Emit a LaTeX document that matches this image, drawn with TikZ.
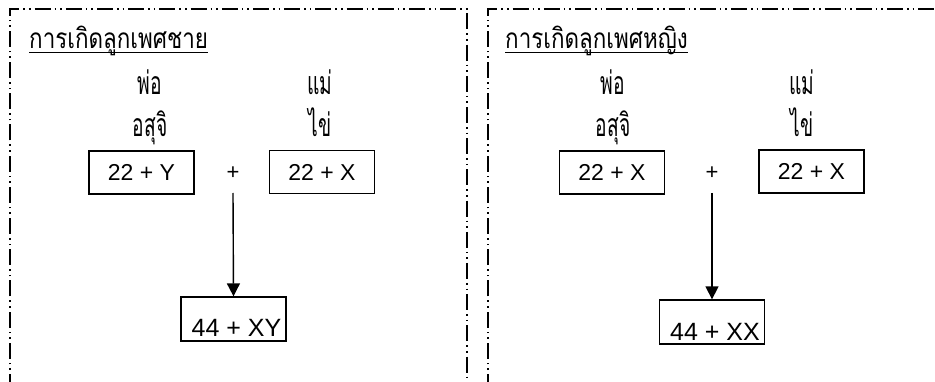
\documentclass[tikz,border=0pt]{standalone}
\usepackage{fontspec}
\setmainfont{Liberation Sans}
\newfontfamily\thaifont[Script=Thai,FakeStretch=0.8]{Loma}
\newfontfamily\thaicond[Script=Thai,FakeStretch=0.6]{Loma}
\usetikzlibrary{arrows.meta}
\newcommand\myul[1]{\setbox0\hbox{#1}\rlap{\rule[-4pt]{\wd0}{1pt}}\box0}
\tikzset{
  panel/.style={line width=1.5pt, dash pattern=on 16pt off 4pt on 1.6pt off 4pt on 1.6pt off 4pt},
  thai/.style={font=\thaicond\fontsize{32}{32}\selectfont, inner sep=0pt, anchor=base},
  ttl/.style={font=\thaifont\fontsize{28}{28}\selectfont, inner sep=0pt, anchor=base west},
  chrom/.style={draw, line width=1.3pt, minimum width=105pt, minimum height=43pt, inner sep=0pt,
    font=\fontsize{23}{23}\selectfont},
  child/.style={draw, line width=1.3pt, minimum width=105pt, inner xsep=0pt, inner ysep=0pt,
    text height=40pt, text depth=4pt, font=\fontsize{25}{25}\selectfont},
  plus/.style={font=\fontsize{22}{22}\selectfont, inner sep=0pt},
  arr/.style={line width=1.4pt, -{Triangle[width=13pt,length=13pt]}}
}
\begin{document}
\begin{tikzpicture}[x=1pt,y=-1pt]
\useasboundingbox (0,0) rectangle (935,382);
% panels
\draw[panel] (10,390) -- (10,9) -- (467,9) -- (467,390);
\draw[panel] (488,390) -- (488,9) -- (940,9);
% left panel
\node[ttl] (tL) at (29,49) {\myul{การเกิดลูกเพศชาย}};
\node[thai] (fL) at (150,95) {พ่อ};
\node[thai] (mL) at (320,95) {แม่};
\node[thai] (sL) at (150,137) {อสุจิ};
\node[thai] (eL) at (320,137) {ไข่};
\node[chrom] (bL1) at (141.5,172.5) {22 + Y};
\node[plus] (pL) at (233,173) {+};
\node[chrom] (bL2) at (322,172) {22 + X};
\coordinate (aL) at (233,193);
\node[child] (cL) at (233.5,319) {\hspace*{6pt}44 + XY};
\draw[arr] (aL) -- (cL.north);
% right panel
\node[ttl] (tR) at (505,49) {\myul{การเกิดลูกเพศหญิง}};
\node[thai] (fR) at (613,95) {พ่อ};
\node[thai] (mR) at (802,95) {แม่};
\node[thai] (sR) at (613,137) {อสุจิ};
\node[thai] (eR) at (802,137) {ไข่};
\node[chrom] (bR1) at (612,172.5) {22 + X};
\node[plus] (pR) at (712,173) {+};
\node[chrom] (bR2) at (811.5,171.5) {22 + X};
\coordinate (aR) at (712,193);
\node[child] (cR) at (712,322) {\hspace*{6pt}44 + XX};
\draw[arr] (aR) -- (cR.north);
\end{tikzpicture}
\end{document}
